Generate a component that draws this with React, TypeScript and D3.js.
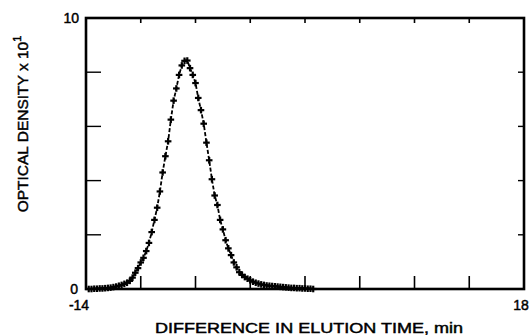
import React from "react";
import * as d3 from "d3";

const timeMin = [
  -13.8, -13.6, -13.4, -13.2, -13.0, -12.8, -12.6, -12.4, -12.2, -12.0,
  -11.8, -11.6, -11.4, -11.2, -11.0, -10.8, -10.6, -10.4, -10.2, -10.0,
  -9.8, -9.6, -9.4, -9.2, -9.0, -8.8, -8.6, -8.4, -8.2, -8.0,
  -7.8, -7.6, -7.4, -7.2, -7.0, -6.8, -6.6, -6.4, -6.2, -6.0,
  -5.8, -5.6, -5.4, -5.2, -5.0, -4.8, -4.6, -4.4, -4.2, -4.0,
  -3.8, -3.6, -3.4, -3.2, -3.0, -2.8, -2.6, -2.4, -2.2, -2.0,
  -1.8, -1.6, -1.4, -1.2, -1.0, -0.8, -0.6, -0.4, -0.2, 0.0,
  0.2, 0.4, 0.6, 0.8, 1.0, 1.2, 1.4, 1.6, 1.8, 2.0,
  2.2, 2.4, 2.6,
];
const opticalDensity = [
  0.0, 0.0, 0.01, 0.01, 0.02, 0.02, 0.03, 0.04, 0.05, 0.07,
  0.09, 0.12, 0.15, 0.19, 0.23, 0.3, 0.42, 0.6, 0.77, 0.98,
  1.15, 1.4, 1.7, 2.1, 2.55, 3.0, 3.6, 4.3, 4.9, 5.45,
  6.25, 6.95, 7.4, 7.9, 8.25, 8.42, 8.43, 8.15, 7.9, 7.6,
  7.05, 6.6, 6.1, 5.4, 4.75, 4.05, 3.45, 3.1, 2.55, 2.2,
  1.8, 1.5, 1.25, 0.98, 0.8, 0.62, 0.52, 0.44, 0.38, 0.32,
  0.27, 0.23, 0.2, 0.17, 0.15, 0.13, 0.12, 0.11, 0.1, 0.09,
  0.08, 0.07, 0.06, 0.05, 0.04, 0.04, 0.03, 0.03, 0.02, 0.02,
  0.01, 0.01, 0.0,
];
const xDomain = [-14, 18];
const yDomain = [0, 10];
const xTicks = [-10, -6, -2, 2, 6, 10, 14];
const yTicks = [2, 4, 6, 8];
const xTickLabels = ["-14", "18"];
const yTickLabels = ["0", "10"];
const xTitle = "DIFFERENCE IN ELUTION TIME, min";
const yTitle = "OPTICAL DENSITY x 10";

export default function App() {
  const W = 532, H = 335;
  const x = d3.scaleLinear().domain(xDomain).range([86, 524]);
  const y = d3.scaleLinear().domain(yDomain).range([289, 18]);
  const pts = timeMin.map((t, i) => [t, opticalDensity[i]] as [number, number]);
  const line = d3.line<[number, number]>().x((d) => x(d[0])).y((d) => y(d[1]));
  const font = "'Liberation Sans', Arial, sans-serif";
  const arm = 3.3;
  const ts = { fontFamily: font, stroke: "#000", strokeWidth: 0.45 } as React.CSSProperties;
  return (
    <svg width={W} height={H} style={{ position: "absolute", left: 0, top: 0, background: "#fff" }}>
      <rect x={x(xDomain[0])} y={y(yDomain[1])} width={x(xDomain[1]) - x(xDomain[0])} height={y(yDomain[0]) - y(yDomain[1])}
        fill="none" stroke="#000" strokeWidth={2.6} />
      {xTicks.map((t) => (
        <g key={"xt" + t}>
          <line x1={x(t)} x2={x(t)} y1={y(0)} y2={y(0) - 13} stroke="#000" strokeWidth={1.6} />
          <line x1={x(t)} x2={x(t)} y1={y(10)} y2={y(10) + 5} stroke="#000" strokeWidth={1.6} />
        </g>
      ))}
      {yTicks.map((t) => (
        <g key={"yt" + t}>
          <line x1={x(-14)} x2={x(-14) + 15} y1={y(t)} y2={y(t)} stroke="#000" strokeWidth={1.4} />
          <line x1={x(18)} x2={x(18) - 6} y1={y(t)} y2={y(t)} stroke="#000" strokeWidth={1.4} />
        </g>
      ))}
      <path d={line(pts) || ""} fill="none" stroke="#000" strokeWidth={1.8} strokeDasharray="4,2" />
      {pts.map((d, i) => (
        <g key={"p" + i} stroke="#000" strokeWidth={2.2}>
          <line x1={x(d[0]) - arm} x2={x(d[0]) + arm} y1={y(d[1])} y2={y(d[1])} />
          <line x1={x(d[0])} x2={x(d[0])} y1={y(d[1]) - arm} y2={y(d[1]) + arm} />
        </g>
      ))}
      <text x={79} y={y(10) + 5} textAnchor="end" style={ts} fontSize={14}>{yTickLabels[1]}</text>
      <text x={78} y={y(0) + 5} textAnchor="end" style={ts} fontSize={14}>{yTickLabels[0]}</text>
      <text x={79} y={310} textAnchor="middle" style={ts} fontSize={14}>{xTickLabels[0]}</text>
      <text x={521} y={310} textAnchor="middle" style={ts} fontSize={14}>{xTickLabels[1]}</text>
      <text x={309} y={333} textAnchor="middle" style={ts} fontSize={14.5} textLength={308} lengthAdjust="spacingAndGlyphs">{xTitle}</text>
      <g transform="translate(28,124) rotate(-90)">
        <text x={0} y={0} textAnchor="middle" style={ts} fontSize={15.5}>
          {yTitle}
          <tspan dy={-7} fontSize={11}>1</tspan>
        </text>
      </g>
    </svg>
  );
}
